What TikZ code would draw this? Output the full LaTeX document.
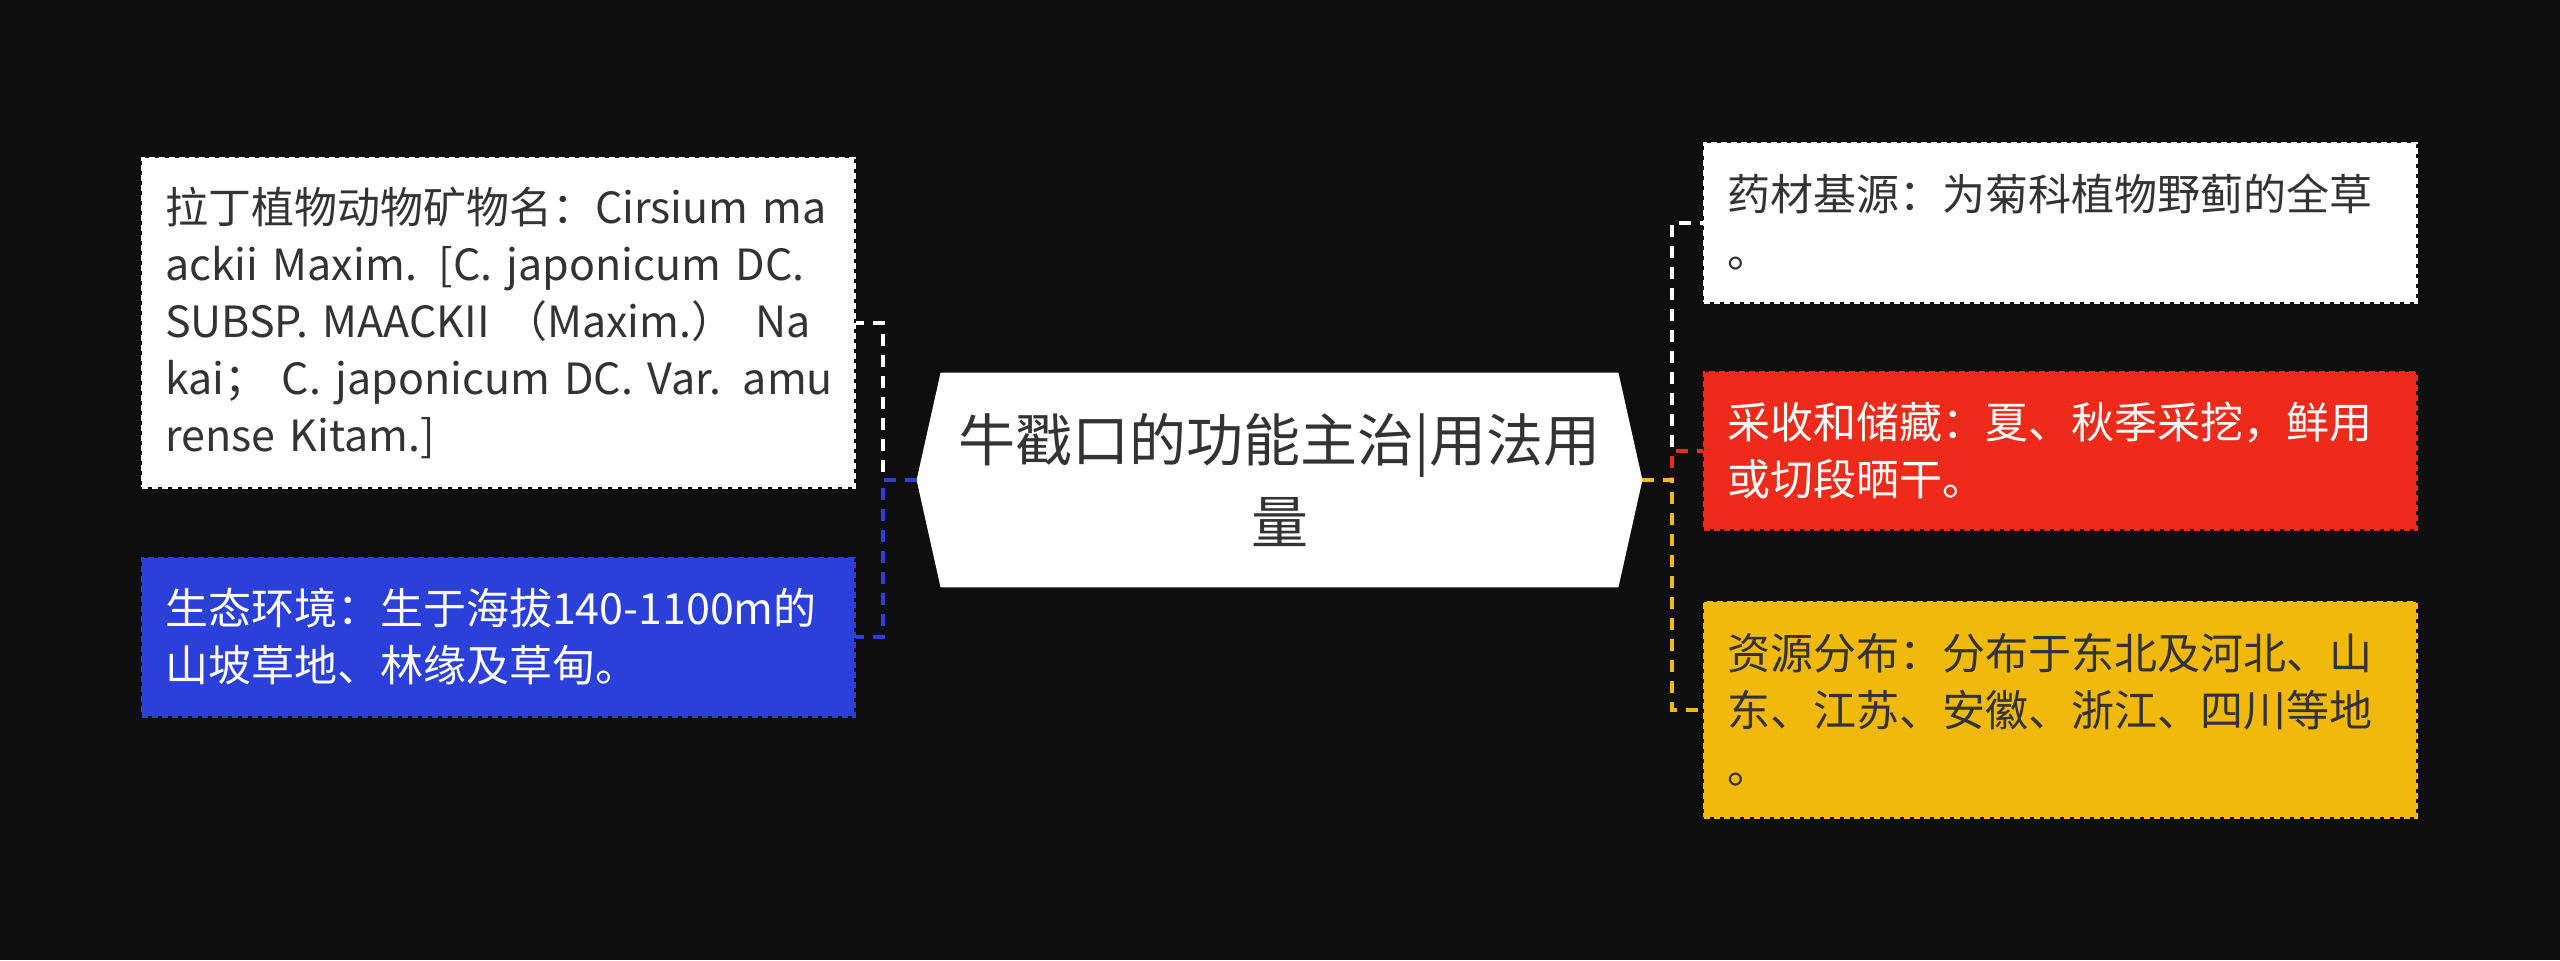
\documentclass[tikz,border=0pt]{standalone}
\usepackage{fontspec}
\setmainfont{Noto Sans CJK SC}
\usetikzlibrary{backgrounds}
\definecolor{bgdark}{HTML}{0E0E0E}
\definecolor{inkgray}{HTML}{333333}
\definecolor{mapblue}{HTML}{2A40D9}
\definecolor{mapred}{HTML}{EE2A1A}
\definecolor{mapyellow}{HTML}{F0B90B}
\newlength\tw
\setlength\tw{333pt}
\begin{document}
\begin{tikzpicture}[x=0.5pt,y=-0.5pt,
    leaf/.style={minimum width=356pt,text width=\tw,inner xsep=11.5pt,inner ysep=0pt,
      align=left,font=\fontsize{21.5}{28.5}\selectfont,line width=1.5pt,
      dash pattern=on 3pt off 2pt},
    link/.style={line width=2pt,dash pattern=on 6pt off 4.5pt}]
    \useasboundingbox (0,0) rectangle (2560,960);
    % Hub
    \node[font=\fontsize{28.5}{41}\selectfont,text=inkgray,align=center,
          minimum width=362.5pt,minimum height=107pt,inner sep=0pt]
        (hub) at (1279.5,480) {牛戳口的功能主治|用法用\\量};
    % Left leaves
    \node[leaf,fill=white,draw=white,text=inkgray,minimum height=164.5pt]
        (latin) at (498,322.5) {拉丁植物动物矿物名：Cirsium ma\\
        ackii Maxim. [C. japonicum DC.\\
        \makebox[\tw][s]{SUBSP. MAACKII （Maxim.） Na}\\
        \makebox[\tw][s]{kai； C. japonicum DC. Var. amu}\\
        rense Kitam.]};
    \node[leaf,fill=mapblue,draw=mapblue,text=white,minimum height=79pt]
        (habitat) at (498,637) {生态环境：生于海拔140-1100m的\\山坡草地、林缘及草甸。};
    % Right leaves
    \node[leaf,fill=white,draw=white,text=inkgray,minimum height=79.5pt]
        (source) at (2060,222.5) {药材基源：为菊科植物野蓟的全草\\。};
    \node[leaf,fill=mapred,draw=mapred,text=white,minimum height=78.5pt]
        (harvest) at (2060,450.5) {采收和储藏：夏、秋季采挖，鲜用\\或切段晒干。};
    \node[leaf,fill=mapyellow,draw=mapyellow,text=inkgray,minimum height=107.5pt]
        (distrib) at (2060,709.5) {资源分布：分布于东北及河北、山\\东、江苏、安徽、浙江、四川等地\\。};
    % Background and hub shape
    \begin{scope}[on background layer]
        \fill[bgdark] (0,0) rectangle (2560,960);
        \fill[white] (hub.west) -- ([xshift=12pt]hub.north west)
            -- ([xshift=-12pt]hub.north east) -- (hub.east)
            -- ([xshift=-12pt]hub.south east) -- ([xshift=12pt]hub.south west) -- cycle;
    \end{scope}
    % Connectors
    \draw[link,white] (hub.west) -- ++(-34,0) |- (latin.east);
    \draw[link,mapblue] (hub.west) -- ++(-34,0) |- (habitat.east);
    \draw[link,white] (hub.east) -- ++(30,0) |- (source.west);
    \draw[link,mapred] (hub.east) -- ++(30,0) |- (harvest.west);
    \draw[link,mapyellow] (hub.east) -- ++(30,0) |- (distrib.west);
\end{tikzpicture}
\end{document}
